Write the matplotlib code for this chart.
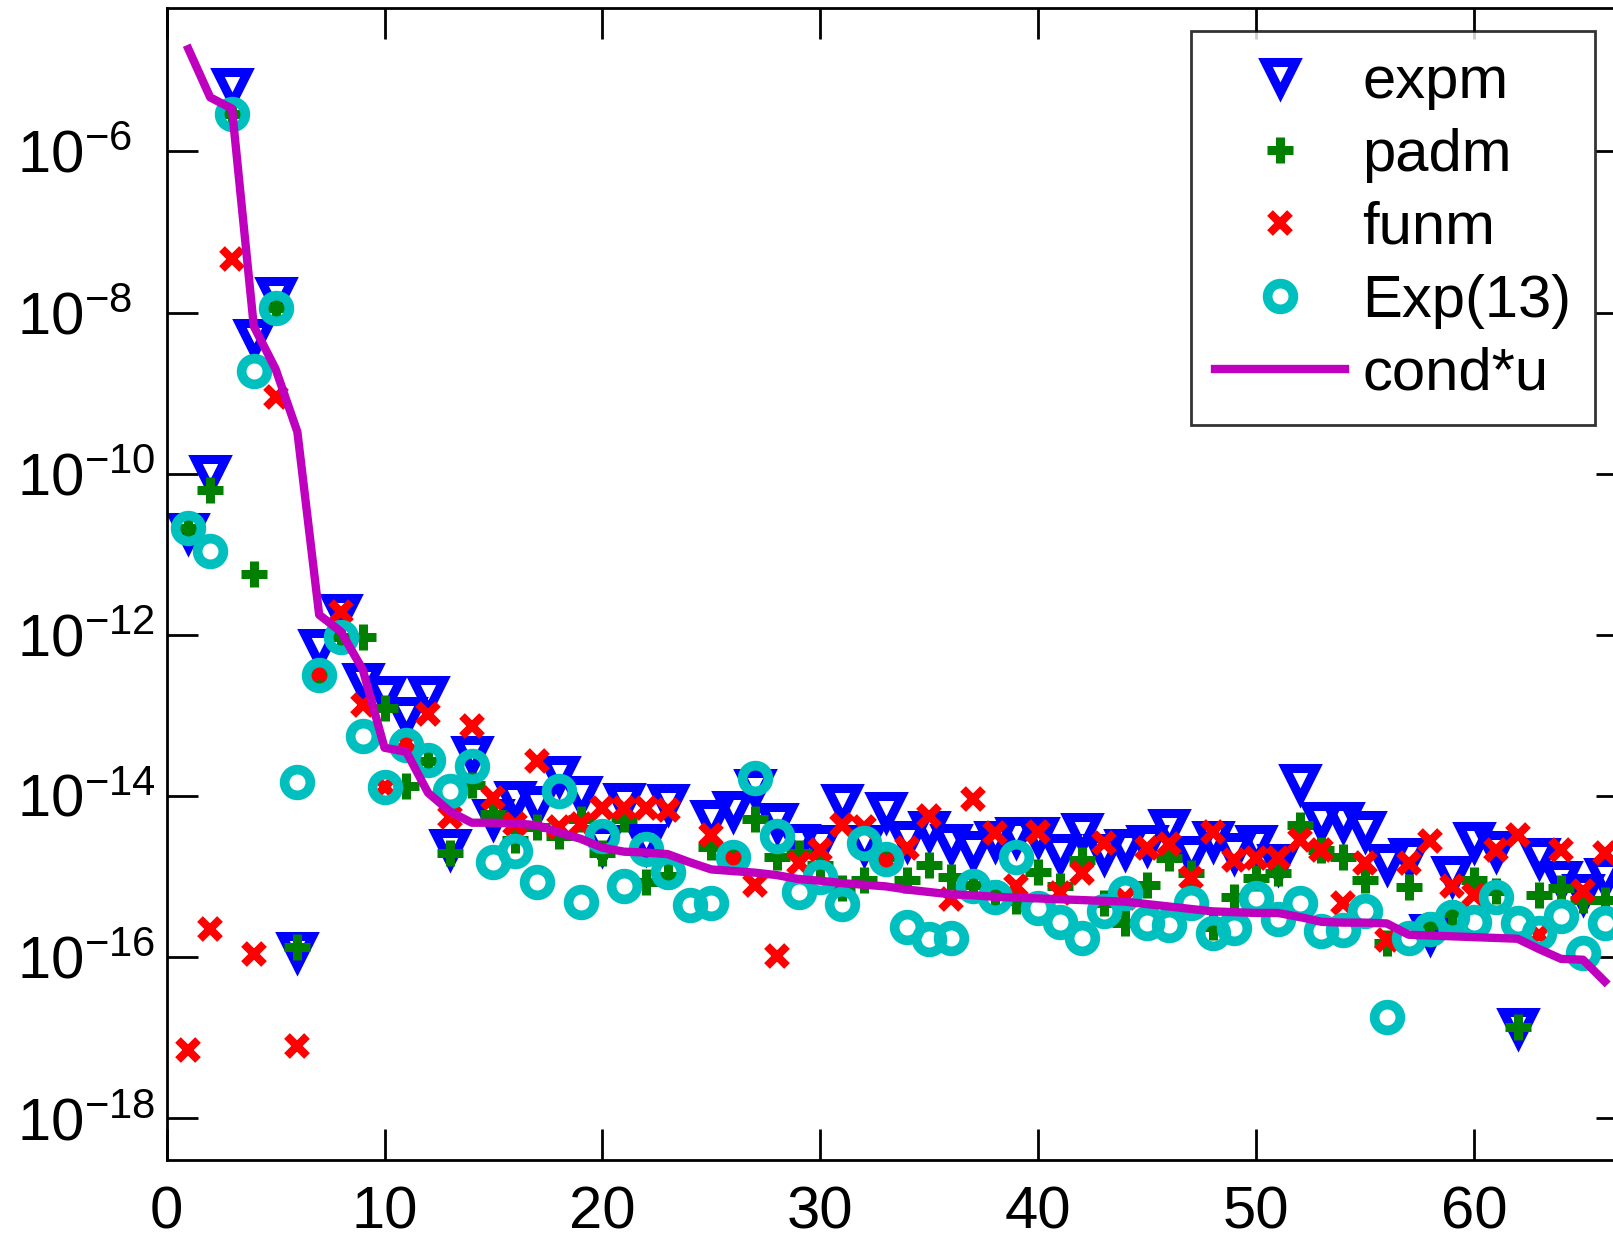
import numpy as np
import matplotlib
matplotlib.use("Agg")
from matplotlib import pyplot as plt

# matrix index 1..66
idx = np.arange(1, 67)
nan = np.nan

# relative errors as log10 values (nan = not shown)
expm_log10 = [-10.72, -10.0, -5.2, -8.32, -7.8, -15.92, -12.16, -11.73, -12.58, -12.74,
              -13.0, -12.75, -14.65, -13.49, -14.27, -14.05, -14.11, -13.74, -13.99, -14.6,
              -14.07, -14.58, -14.09, nan, -14.29, -14.17, -13.9, -14.32, -14.58, -14.6,
              -14.09, -14.6, -14.19, -14.55, -14.42, -14.58, -14.67, -14.54, -14.5, -14.5,
              -14.7, -14.44, -14.71, -14.65, -14.6, -14.4, -14.73, -14.55, -14.69, -14.6,
              -14.83, -13.84, -14.31, -14.31, -14.42, -14.83, -14.75, -15.7, -14.98, -14.56,
              -14.67, -16.86, -14.75, -15.04, -15.2, -15.0]
padm_log10 = [-10.67, -10.2, -5.54, -11.25, -7.94, -15.87, -12.5, -12.02, -12.02, -12.91,
              -13.88, -13.56, -14.71, -13.86, -14.22, -14.55, -14.38, -14.5, -14.28, -14.71,
              -14.29, -15.06, -14.99, nan, -14.63, -14.75, -14.29, -14.75, -14.71, -14.85,
              -15.14, -15.04, -14.75, -15.04, -14.85, -15.0, -15.1, -15.2, -15.3, -14.94,
              -15.12, -14.79, -15.33, -15.58, -15.1, -14.77, -14.96, -15.62, -15.25, -15.02,
              -14.96, -14.36, -14.67, -14.75, -15.04, -15.82, -15.13, -15.6, -15.45, -15.04,
              -15.18, -16.86, -15.23, -15.14, -15.29, -15.29]
funm_log10 = [-17.15, -15.65, -7.33, -15.96, -9.05, -17.1, -12.47, -11.71, -12.87, -13.89,
              -13.33, -12.98, -14.26, -13.13, -14.02, -14.34, -13.57, -14.38, -14.34, -14.15,
              -14.15, -14.15, -14.17, nan, -14.48, -14.79, -15.1, -15.99, -14.83, -14.67,
              -14.36, -14.38, -14.8, -14.65, -14.25, -15.28, -14.04, -14.46, -15.12, -14.44,
              -15.2, -14.96, -14.58, -15.27, -14.65, -14.6, -15.02, -14.44, -14.79, -14.77,
              -14.77, -14.54, -14.67, -15.33, -14.83, -15.78, -14.83, -14.56, -15.12, -15.23,
              -14.67, -14.48, -15.72, -14.67, -15.18, -14.71]
exp13_log10 = [-10.67, -10.96, -5.54, -8.72, -7.94, -13.83, -12.5, -12.02, -13.25, -13.89,
               -13.36, -13.55, -13.94, -13.63, -14.82, -14.68, -15.06, -13.94, -15.31, -14.5,
               -15.12, -14.66, -14.94, -15.35, -15.33, -14.76, -13.77, -14.5, -15.19, -15.0,
               -15.34, -14.58, -14.78, -15.62, -15.77, -15.76, -15.11, -15.25, -14.76, -15.39,
               -15.56, -15.76, -15.43, -15.2, -15.58, -15.6, -15.33, -15.7, -15.64, -15.27,
               -15.52, -15.33, -15.68, -15.66, -15.43, -16.74, -15.76, -15.65, -15.5, -15.56,
               -15.25, -15.58, -15.7, -15.49, -15.95, -15.58]
condu_log10 = [-4.73, -5.33, -5.47, -8.17, -8.70, -9.48, -11.75, -11.96, -12.43, -13.40,
               -13.45, -13.96, -14.19, -14.33, -14.33, -14.34, -14.36, -14.45, -14.53, -14.64,
               -14.69, -14.70, -14.72, -14.82, -14.91, -14.93, -14.95, -14.98, -15.03, -15.05,
               -15.08, -15.10, -15.12, -15.16, -15.19, -15.22, -15.23, -15.25, -15.26, -15.27,
               -15.28, -15.29, -15.30, -15.31, -15.34, -15.37, -15.40, -15.43, -15.44, -15.45,
               -15.45, -15.50, -15.56, -15.57, -15.57, -15.58, -15.72, -15.73, -15.74, -15.75,
               -15.76, -15.77, -15.90, -16.02, -16.03, -16.30]

xtick_vals = [0, 10, 20, 30, 40, 50, 60]
ytick_exps = [-18, -16, -14, -12, -10, -8, -6]

plt.rcParams['font.family'] = ['Liberation Sans', 'DejaVu Sans']
plt.rcParams['mathtext.fontset'] = 'custom'
plt.rcParams['mathtext.rm'] = 'Liberation Sans'
plt.rcParams['mathtext.it'] = 'Liberation Sans:italic'
plt.rcParams['mathtext.bf'] = 'Liberation Sans:bold'

fig = plt.figure(figsize=(16.13, 12.38), dpi=100)
ax = fig.add_axes([0.1033, 0.0627, 0.9051, 0.9309])

ax.semilogy(idx, 10.0 ** np.array(expm_log10), 'v', color='#0000ff', mfc='none',
            ms=22, mew=6.5, label='expm')
ax.semilogy(idx, 10.0 ** np.array(padm_log10), '+', color='#007f00',
            ms=19, mew=6.5, label='padm')
ax.semilogy(idx, 10.0 ** np.array(funm_log10), 'x', color='#ff0000',
            ms=14, mew=5.8, label='funm')
ax.semilogy(idx, 10.0 ** np.array(exp13_log10), 'o', color='#00bfbf', mfc='none',
            ms=18.5, mew=7, label='Exp(13)')
ax.semilogy(idx, 10.0 ** np.array(condu_log10), '-', color='#bf00bf', lw=6,
            label='cond*u')

ax.set_xlim(0, 67)
ax.set_ylim(10 ** -18.52, 10 ** -4.22)
ax.set_xticks(xtick_vals)
ax.set_xticklabels([str(v) for v in xtick_vals])
ax.set_yticks([10.0 ** e for e in ytick_exps])
ax.set_yticklabels([r'$10^{%d}$' % e for e in ytick_exps])
ax.minorticks_off()
ax.tick_params(which='both', direction='in', length=22, width=2,
               top=True, right=True, labelsize=43)
ax.tick_params(axis='x', pad=18)
ax.tick_params(axis='y', pad=107.7)
for lab in ax.get_yticklabels():
    lab.set_horizontalalignment('left')
for s in ax.spines.values():
    s.set_linewidth(2)

leg = ax.legend(loc='upper right', bbox_to_anchor=(0.9784, 0.980), fontsize=43,
                frameon=True, fancybox=False, handlelength=2.18, handletextpad=0.28,
                labelspacing=0.3, borderpad=0.4, borderaxespad=0)
leg.get_frame().set_edgecolor('black')
leg.get_frame().set_linewidth(2)

fig.savefig('out.png', dpi=100)
